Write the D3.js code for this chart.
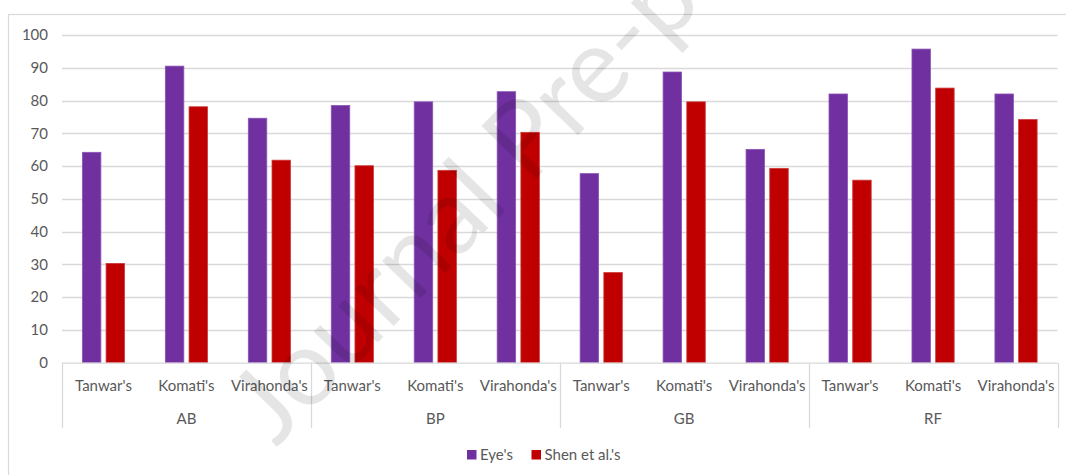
<!DOCTYPE html>
<html>
<head>
<meta charset="utf-8">
<script src="https://cdn.jsdelivr.net/npm/d3@7"></script>
<style>
  html, body { margin: 0; padding: 0; background: #fff; }
  svg { display: block; }
  text { font-family: Lato, "Open Sans", "Liberation Sans", sans-serif; }
</style>
</head>
<body>
<svg id="chart" width="1066" height="475"></svg>
<script>
// Datasets (outer groups) and methods (inner categories)
const groups = ["AB", "BP", "GB", "RF"];
const methods = ["Tanwar's", "Komati's", "Virahonda's"];
const seriesNames = ["Eye's", "Shen et al.'s"];
const seriesColors = ["#7030A0", "#C00000"];

// Values per group, in method order
const eyeValues = [
  64.2, 90.5, 74.6,   // AB
  78.5, 79.6, 82.7,   // BP
  57.7, 88.7, 65.1,   // GB
  82.0, 95.7, 82.0    // RF
];
const shenValues = [
  30.3, 78.1, 61.8,
  60.1, 58.7, 70.3,
  27.5, 79.6, 59.3,
  55.7, 83.8, 74.2
];
const yTicks = [0, 10, 20, 30, 40, 50, 60, 70, 80, 90, 100];

const rows = [];
groups.forEach((g, gi) => {
  methods.forEach((m, mi) => {
    const i = gi * methods.length + mi;
    rows.push({ group: g, method: m, values: [eyeValues[i], shenValues[i]] });
  });
});

const svg = d3.select("#chart");
const W = 1066, H = 475;
const plot = { left: 62, right: 1057.5, top: 35, bottom: 362.7 };
const labelSize = 15;
const labelColor = "#595959";

// Chart-area frame
svg.append("rect")
  .attr("x", 8.5).attr("y", 14.5)
  .attr("width", W + 20).attr("height", H + 20)
  .attr("fill", "#fff").attr("stroke", "#d9d9d9").attr("stroke-width", 1.2);

const y = d3.scaleLinear().domain([0, 100]).range([plot.bottom, plot.top]);
const xGroup = d3.scaleBand().domain(groups).range([plot.left, plot.right]);
const xMethod = d3.scaleBand().domain(methods).range([0, xGroup.bandwidth()]);
const xSeries = d3.scaleBand().domain([0, 1]).range([0, xMethod.bandwidth()])
  .paddingInner(0.22).paddingOuter(0.86);

// Gridlines
svg.append("g")
  .selectAll("line")
  .data(yTicks.filter(t => t > 0))
  .join("line")
  .attr("x1", plot.left).attr("x2", plot.right)
  .attr("y1", d => Math.round(y(d)) + 0.5).attr("y2", d => Math.round(y(d)) + 0.5)
  .attr("stroke", "#d9d9d9").attr("stroke-width", 1.3);

// Y axis labels
const yAxis = d3.axisLeft(y).tickValues(yTicks).tickSize(0).tickPadding(0);
const yG = svg.append("g").attr("transform", `translate(${plot.left - 14},0)`).call(yAxis);
yG.select(".domain").remove();
yG.selectAll("text")
  .attr("fill", labelColor).attr("font-size", labelSize)
  .attr("font-family", "Lato, 'Open Sans', sans-serif");

// Bars
const cat = svg.append("g")
  .selectAll("g")
  .data(rows)
  .join("g")
  .attr("transform", d => `translate(${xGroup(d.group) + xMethod(d.method)},0)`);

cat.selectAll("rect")
  .data(d => d.values.map((v, i) => ({ v, i })))
  .join("rect")
  .attr("x", d => xSeries(d.i))
  .attr("width", xSeries.bandwidth())
  .attr("y", d => y(d.v))
  .attr("height", d => y(0) - y(d.v))
  .attr("fill", d => seriesColors[d.i])
  .attr("stroke", d => d.i === 0 ? "#8a55b5" : "#cc3a3a")
  .attr("stroke-width", 0.8);

// Baseline
svg.append("line")
  .attr("x1", plot.left).attr("x2", plot.right)
  .attr("y1", plot.bottom + 0.5).attr("y2", plot.bottom + 0.5)
  .attr("stroke", "#d9d9d9").attr("stroke-width", 1.3);

// Group dividers below the axis
const dividers = groups.map(g => xGroup(g)).concat([plot.right]);
svg.append("g")
  .selectAll("line")
  .data(dividers)
  .join("line")
  .attr("x1", d => Math.round(d) + 0.5).attr("x2", d => Math.round(d) + 0.5)
  .attr("y1", plot.bottom).attr("y2", 428)
  .attr("stroke", "#d9d9d9").attr("stroke-width", 1.3);

// Method labels
svg.append("g")
  .selectAll("text")
  .data(rows)
  .join("text")
  .attr("x", d => xGroup(d.group) + xMethod(d.method) + xMethod.bandwidth() / 2)
  .attr("y", 390.5)
  .attr("text-anchor", "middle")
  .attr("fill", labelColor).attr("font-size", labelSize)
  .text(d => d.method);

// Group labels
svg.append("g")
  .selectAll("text")
  .data(groups)
  .join("text")
  .attr("x", d => xGroup(d) + xGroup.bandwidth() / 2)
  .attr("y", 423.5)
  .attr("text-anchor", "middle")
  .attr("fill", labelColor).attr("font-size", labelSize)
  .text(d => d);

// Legend
const legend = svg.append("g").attr("transform", "translate(467,450)");
const legendX = [0, 64.5];
seriesNames.forEach((name, i) => {
  const lg = legend.append("g").attr("transform", `translate(${legendX[i]},0)`);
  lg.append("rect").attr("width", 9.5).attr("height", 9.5).attr("fill", seriesColors[i]);
  lg.append("text").attr("x", 13).attr("y", 10)
    .attr("fill", labelColor).attr("font-size", labelSize).text(name);
});

// Watermark
svg.append("text")
  .attr("transform", "translate(276,448) rotate(-46)")
  .attr("font-family", "'Liberation Sans', Arial, sans-serif")
  .attr("font-size", 106)
  .attr("fill", "#000").attr("fill-opacity", 0.1)
  .text("Journal Pre-proof");
</script>
</body>
</html>
